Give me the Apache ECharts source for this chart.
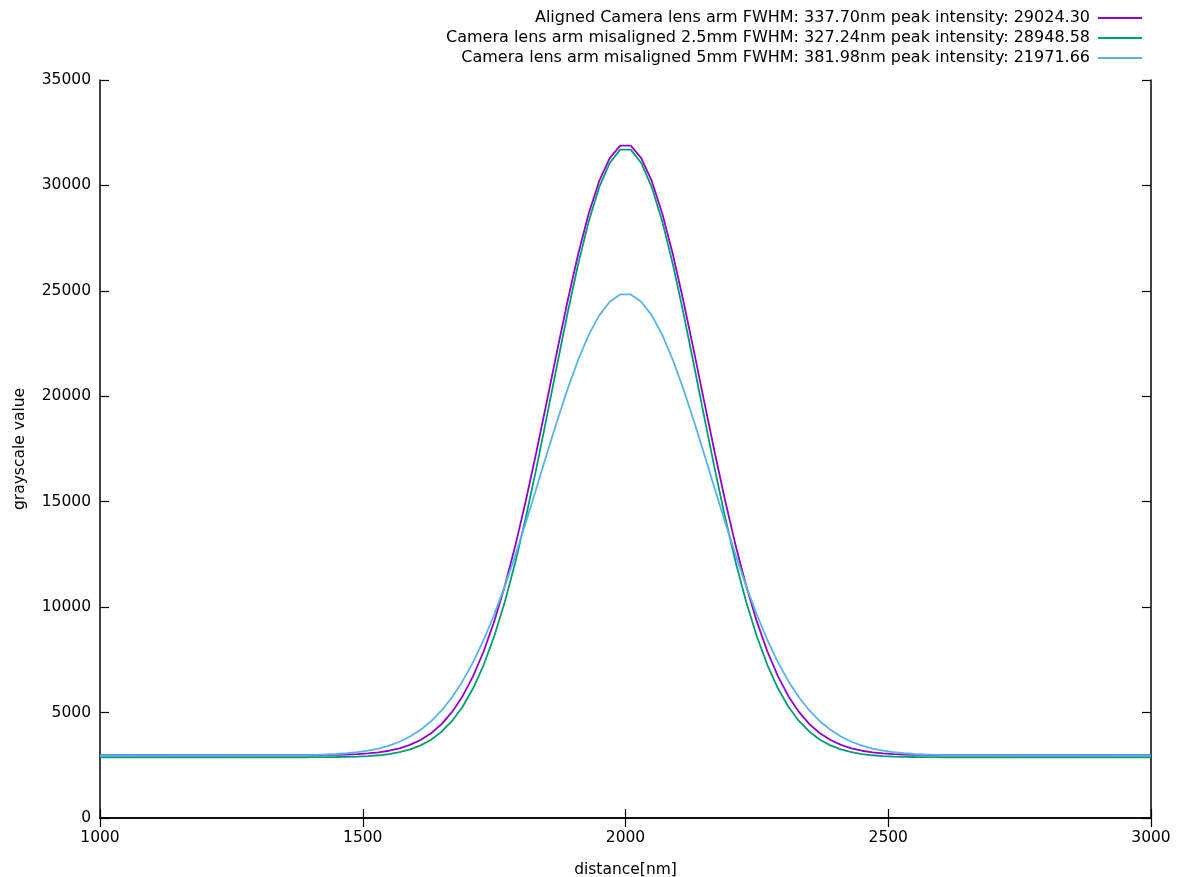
<!DOCTYPE html>
<html>
<head>
<meta charset="utf-8">
<script src="https://cdn.jsdelivr.net/npm/echarts@6/dist/echarts.min.js"></script>
<style>html,body{margin:0;padding:0;background:#fff}#c{width:1178px;height:877px}</style>
</head>
<body>
<div id="c"></div>
<script>
const xValues = [1000, 1200, 1390,
  1410, 1430, 1450, 1470, 1490, 1510, 1530, 1550, 1570, 1590,
  1610, 1630, 1650, 1670, 1690, 1710, 1730, 1750, 1770, 1790,
  1810, 1830, 1850, 1870, 1890, 1910, 1930, 1950, 1970, 1990,
  2010, 2030, 2050, 2070, 2090, 2110, 2130, 2150, 2170, 2190,
  2210, 2230, 2250, 2270, 2290, 2310, 2330, 2350, 2370, 2390,
  2410, 2430, 2450, 2470, 2490, 2510, 2530, 2550, 2570, 2590,
  2610, 2800, 3000];

const alignedValues = [2980, 2980, 2983,
  2986, 2991, 2999, 3011, 3032, 3064, 3115, 3190, 3303, 3466,
  3697, 4018, 4452, 5029, 5777, 6725, 7897, 9312, 10976, 12884,
  15010, 17313, 19726, 22168, 24543, 26746, 28670, 30213, 31294, 31890,
  31890, 31294, 30213, 28670, 26746, 24543, 22168, 19726, 17313, 15010,
  12884, 10976, 9312, 7897, 6725, 5777, 5029, 4452, 4018, 3697,
  3466, 3303, 3190, 3115, 3064, 3032, 3011, 2999, 2991, 2986,
  2983, 2980, 2980];

const mis25Values = [2880, 2880, 2882,
  2883, 2886, 2892, 2900, 2914, 2938, 2975, 3033, 3121, 3252,
  3443, 3715, 4092, 4603, 5279, 6153, 7254, 8605, 10219, 12096,
  14215, 16536, 18997, 21509, 23974, 26274, 28294, 29922, 31066, 31700,
  31700, 31066, 29922, 28294, 26274, 23974, 21509, 18997, 16536, 14215,
  12096, 10219, 8605, 7254, 6153, 5279, 4603, 4092, 3715, 3443,
  3252, 3121, 3033, 2975, 2938, 2914, 2900, 2892, 2886, 2883,
  2882, 2880, 2880];

const mis5Values = [2965, 2966, 2982,
  2994, 3011, 3035, 3070, 3121, 3193, 3294, 3431, 3617, 3862,
  4181, 4588, 5099, 5728, 6489, 7392, 8442, 9639, 10975, 12433,
  13988, 15604, 17239, 18842, 20358, 21732, 22909, 23839, 24484, 24830,
  24830, 24484, 23839, 22909, 21732, 20358, 18842, 17239, 15604, 13988,
  12433, 10975, 9639, 8442, 7392, 6489, 5728, 5099, 4588, 4181,
  3862, 3617, 3431, 3294, 3193, 3121, 3070, 3035, 3011, 2994,
  2982, 2966, 2965];

const seriesNames = [
  'Aligned Camera lens arm FWHM: 337.70nm peak intensity: 29024.30',
  'Camera lens arm misaligned 2.5mm FWHM: 327.24nm peak intensity: 28948.58',
  'Camera lens arm misaligned 5mm FWHM: 381.98nm peak intensity: 21971.66'
];
const seriesColors = ['#9400d3', '#009e73', '#56b4e9'];

const FONT = 'DejaVu Sans';
const allValues = [alignedValues, mis25Values, mis5Values];

const chart = echarts.init(document.getElementById('c'), null, {renderer: 'canvas'});

const axisLine = {show: true, lineStyle: {color: '#000', width: 1.5}};
const axisTick = {show: true, inside: true, length: 9, lineStyle: {color: '#000', width: 1.2}};
const plain = v => String(v);
const legendTops = [10, 30, 50];

const option = {
  animation: false,
  backgroundColor: '#fff',
  textStyle: {fontFamily: FONT},
  grid: {left: 100, right: 27, top: 80, bottom: 59, containLabel: false, outerBoundsMode: 'none'},
  legend: seriesNames.map((n, i) => ({
    data: [n],
    right: 36,
    top: legendTops[i],
    padding: 0,
    align: 'right',
    icon: 'rect',
    itemWidth: 44,
    itemHeight: 2,
    itemGap: 8,
    textStyle: {fontFamily: FONT, fontSize: 16, color: '#000', padding: [0, 3, 0, 0]},
    selectedMode: false
  })),
  xAxis: [{
    type: 'value', min: 1000, max: 3000, interval: 500, position: 'bottom',
    name: 'distance[nm]', nameLocation: 'middle', nameGap: 44,
    nameTextStyle: {fontFamily: FONT, fontSize: 15.5, color: '#000'},
    axisLine, axisTick, splitLine: {show: false},
    axisLabel: {fontFamily: FONT, fontSize: 15.5, color: '#000', margin: 12, formatter: plain}
  }, {
    type: 'value', min: 1000, max: 3000, interval: 500, position: 'top',
    axisLine, axisTick, splitLine: {show: false}, axisLabel: {show: false}
  }],
  yAxis: [{
    type: 'value', min: 0, max: 35000, interval: 5000, position: 'left',
    name: 'grayscale value', nameLocation: 'middle', nameGap: 72, nameRotate: 90,
    nameTextStyle: {fontFamily: FONT, fontSize: 15.5, color: '#000'},
    axisLine, axisTick, splitLine: {show: false},
    axisLabel: {fontFamily: FONT, fontSize: 15.5, color: '#000', margin: 9, formatter: plain}
  }, {
    type: 'value', min: 0, max: 35000, interval: 5000, position: 'right',
    axisLine, axisTick, splitLine: {show: false}, axisLabel: {show: false}
  }],
  series: seriesNames.map((n, i) => ({
    name: n,
    type: 'line',
    xAxisIndex: 0,
    yAxisIndex: 0,
    showSymbol: false,
    symbol: 'none',
    smooth: false,
    color: seriesColors[i],
    lineStyle: {color: seriesColors[i], width: 1.8},
    data: xValues.map((x, k) => [x, allValues[i][k]])
  }))
};
chart.setOption(option);
</script>
</body>
</html>
